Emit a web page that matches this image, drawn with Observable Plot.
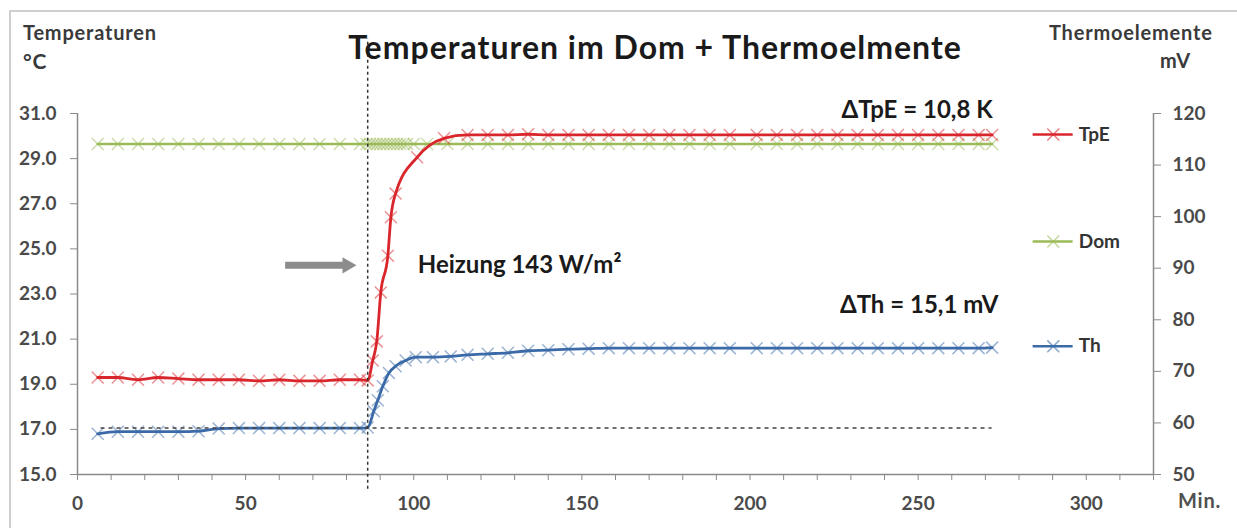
<!DOCTYPE html>
<html>
<head>
<meta charset="utf-8">
<script src="https://cdn.jsdelivr.net/npm/d3@7"></script>
<script src="https://cdn.jsdelivr.net/npm/@observablehq/plot@0.6"></script>
<style>
  html, body { margin: 0; padding: 0; background: #fff; }
  #wrap { position: relative; width: 1237px; height: 528px; overflow: hidden; font-family: Lato, "Open Sans", sans-serif; }
  #frame { position: absolute; left: 9px; top: 10px; width: 1300px; height: 600px; border-top: 2px solid #cfcfcf; border-left: 2px solid #cfcfcf; }
  .lbl { position: absolute; font-weight: bold; color: #3a3a3a; white-space: nowrap; letter-spacing: 0.8px; }
  #title { position: absolute; left: 155px; width: 1000px; top: 27px; text-align: center; font-size: 32px; letter-spacing: 1px; font-weight: bold; color: #1a1a1a; }
  #plot { position: absolute; left: 0; top: 0; }
</style>
</head>
<body>
<div id="wrap">
  <div id="frame"></div>
  <div id="plot"></div>
  <div id="title">Temperaturen im Dom + Thermoelmente</div>
  <div class="lbl" style="left:23px; top:20px; font-size:20px;">Temperaturen</div>
  <div class="lbl" style="left:23px; top:48px; font-size:21px;">°C</div>
  <div class="lbl" style="left:1049px; top:20px; font-size:20px;">Thermoelemente</div>
  <div class="lbl" style="left:1160px; top:48px; font-size:20px;">mV</div>
  <div class="lbl" style="left:1178px; top:488px; font-size:20px; color:#505050;">Min.</div>
</div>
<script>
// ---- data ----
const tpeMin = [6,12,18,24,30,36,42,48,54,60,66,72,78,84,86.3,87.8,89,90.2,92.3,93.2,94.6,101,109,116,122,128,134,140,146,152,158,164,170,176,182,188,194,202,208,214,220,226,232,238,244,250,256,262,268,272];
const tpeVal = [19.3,19.3,19.2,19.3,19.25,19.2,19.2,19.2,19.15,19.2,19.15,19.15,19.2,19.2,19.17,20.05,20.9,23.07,24.7,26.4,27.45,29.06,29.9,30.05,30.05,30.05,30.08,30.05,30.05,30.05,30.05,30.05,30.05,30.05,30.05,30.05,30.05,30.05,30.05,30.05,30.05,30.05,30.05,30.05,30.05,30.05,30.05,30.05,30.05,30.05];

const domMin = [6,12,18,24,30,36,42,48,54,60,66,72,78,84,86,87,88,89,90,91,92,93,94,95,96,97,98,100,104,110,116,122,128,134,140,146,152,158,164,170,176,182,188,194,202,208,214,220,226,232,238,244,250,256,262,268,272];
const domVal = [29.65,29.65,29.65,29.65,29.65,29.65,29.65,29.65,29.65,29.65,29.65,29.65,29.65,29.65,29.65,29.65,29.65,29.65,29.65,29.65,29.65,29.65,29.65,29.65,29.65,29.65,29.65,29.65,29.65,29.65,29.65,29.65,29.65,29.65,29.65,29.65,29.65,29.65,29.65,29.65,29.65,29.65,29.65,29.65,29.65,29.65,29.65,29.65,29.65,29.65,29.65,29.65,29.65,29.65,29.65,29.65,29.65];

// Th in mV (right axis)
const thMin = [6,12,18,24,30,36,42,48,54,60,66,72,78,84,86.3,88.1,89.3,90.8,92.6,94.6,97.6,100.6,105.7,111,116,122,128,134,140,146,152,158,164,170,176,182,188,194,202,208,214,220,226,232,238,244,250,256,262,268,272];
const thVal = [57.9,58.3,58.3,58.3,58.3,58.4,58.9,59.0,59.0,59.0,59.0,59.0,59.0,59.0,59.1,62.25,64.4,67.1,69.7,71.0,72.1,72.75,72.75,72.9,73.2,73.4,73.6,74.0,74.1,74.3,74.4,74.5,74.5,74.5,74.5,74.5,74.5,74.5,74.5,74.5,74.5,74.5,74.5,74.5,74.5,74.5,74.5,74.5,74.5,74.5,74.6];

const seriesNames = ["TpE", "Dom", "Th"];
const leftTicks = [15,17,19,21,23,25,27,29,31];
const rightTicks = [50,60,70,80,90,100,110,120];
const xMinorTicks = d3.range(0, 330, 10);
const xLabelTicks = [0,50,100,150,200,250,300];

const heatStart = 86.3;      // heating switched on
const thBaseline = 59.0;     // Th before heating (mV)
const labelHeizung = "Heizung 143 W/m²";
const labelTpE = "ΔTpE = 10,8 K";
const labelTh = "ΔTh = 15,1 mV";

// ---- scales: right axis (mV 50..120) mapped onto left axis (°C 15..31)
const mv2c = mv => 15 + (mv - 50) * 16 / 70;

const red = "#d8262c", green = "#9bbb59", blue = "#3b6aa8";

const tpe = tpeMin.map((m, i) => ({m, v: tpeVal[i]}));
const dom = domMin.map((m, i) => ({m, v: domVal[i]}));
const th = thMin.map((m, i) => ({m, v: mv2c(thVal[i])}));

const legend = [
  {name: seriesNames[0], color: red, y: 30.07},
  {name: seriesNames[1], color: green, y: 25.33},
  {name: seriesNames[2], color: blue, y: 20.68}
];

const markerOpts = (c) => ({x: "m", y: "v", symbol: "times", r: 5.5, stroke: c, strokeOpacity: 0.5, strokeWidth: 1.5});

const chart = Plot.plot({
  width: 1237,
  height: 528,
  marginLeft: 77,
  marginRight: 84,
  marginTop: 113,
  marginBottom: 54,
  style: {fontFamily: "Lato, sans-serif", fontSize: "19px", fontWeight: "bold", background: "transparent"},
  x: {domain: [0, 320]},
  y: {domain: [15, 31]},
  marks: [
    // axes lines
    Plot.ruleY([15], {stroke: "#8a8a8a", strokeWidth: 1.5}),
    Plot.ruleX([0], {stroke: "#8a8a8a", strokeWidth: 1.5}),
    Plot.ruleX([320], {stroke: "#8a8a8a", strokeWidth: 1.5}),
    Plot.axisY(leftTicks, {anchor: "left", tickSize: 7, tickPadding: 14, stroke: "#8a8a8a", fill: "#4a4a4a", tickFormat: d3.format(".1f"), label: null}),
    Plot.axisY(rightTicks.map(mv2c), {anchor: "right", tickSize: 7, tickPadding: 12, stroke: "#8a8a8a", fill: "#4a4a4a", tickFormat: d => Math.round(50 + (d - 15) * 70 / 16), label: null}),
    Plot.axisX(xMinorTicks, {anchor: "bottom", tickSize: 6, tickFormat: () => "", stroke: "#8a8a8a", label: null}),
    Plot.axisX(xLabelTicks, {anchor: "bottom", tickSize: 0, tickPadding: 22, fill: "#4a4a4a", label: null}),

    // series
    Plot.line(dom, {x: "m", y: "v", stroke: green, strokeWidth: 2.5}),
    Plot.dot(dom, markerOpts(green)),
    Plot.line(tpe, {x: "m", y: "v", stroke: red, strokeWidth: 2.8, curve: "monotone-x"}),
    Plot.dot(tpe, markerOpts(red)),
    Plot.line(th, {x: "m", y: "v", stroke: blue, strokeWidth: 2.8, curve: "monotone-x"}),
    Plot.dot(th, markerOpts(blue)),

    // annotations
    Plot.ruleY([mv2c(thBaseline)], {x1: 7, x2: 272, stroke: "#444", strokeWidth: 1.5, strokeDasharray: "4,4"}),
    Plot.ruleX([heatStart], {y1: 14.35, y2: 34.3, stroke: "#333", strokeWidth: 1.5, strokeDasharray: "3,3"}),
    Plot.ruleY([24.27], {x1: 61.9, x2: 79.5, stroke: "#8c8c8c", strokeWidth: 7}),
    Plot.dot([{x: 80.2, y: 24.27}], {x: "x", y: "y", symbol: "triangle", r: 6, fill: "#8c8c8c", rotate: 90}),
    Plot.text([labelHeizung], {x: 101.2, y: 24.27, text: d => d, textAnchor: "start", fontSize: 24, fontWeight: "bold", fill: "#1a1a1a", style: "letter-spacing:0.6px"}),
    Plot.text([labelTpE], {x: 249.7, y: 31.14, text: d => d, fontSize: 24, fontWeight: "bold", fill: "#1a1a1a"}),
    Plot.text([labelTh], {x: 250.3, y: 22.5, text: d => d, fontSize: 24, fontWeight: "bold", fill: "#1a1a1a"}),

    // legend
    Plot.ruleY(legend, {y: "y", x1: 284.2, x2: 296.1, stroke: "color", strokeWidth: 2.5}),
    Plot.dot(legend, {x: 290.2, y: "y", symbol: "times", r: 5.5, stroke: "color", strokeOpacity: 0.6, strokeWidth: 1.5}),
    Plot.text(legend, {x: 297.8, y: "y", text: "name", textAnchor: "start", fontSize: 19, fontWeight: "bold", fill: "#333"})
  ]
});
document.getElementById("plot").appendChild(chart);
</script>
</body>
</html>
